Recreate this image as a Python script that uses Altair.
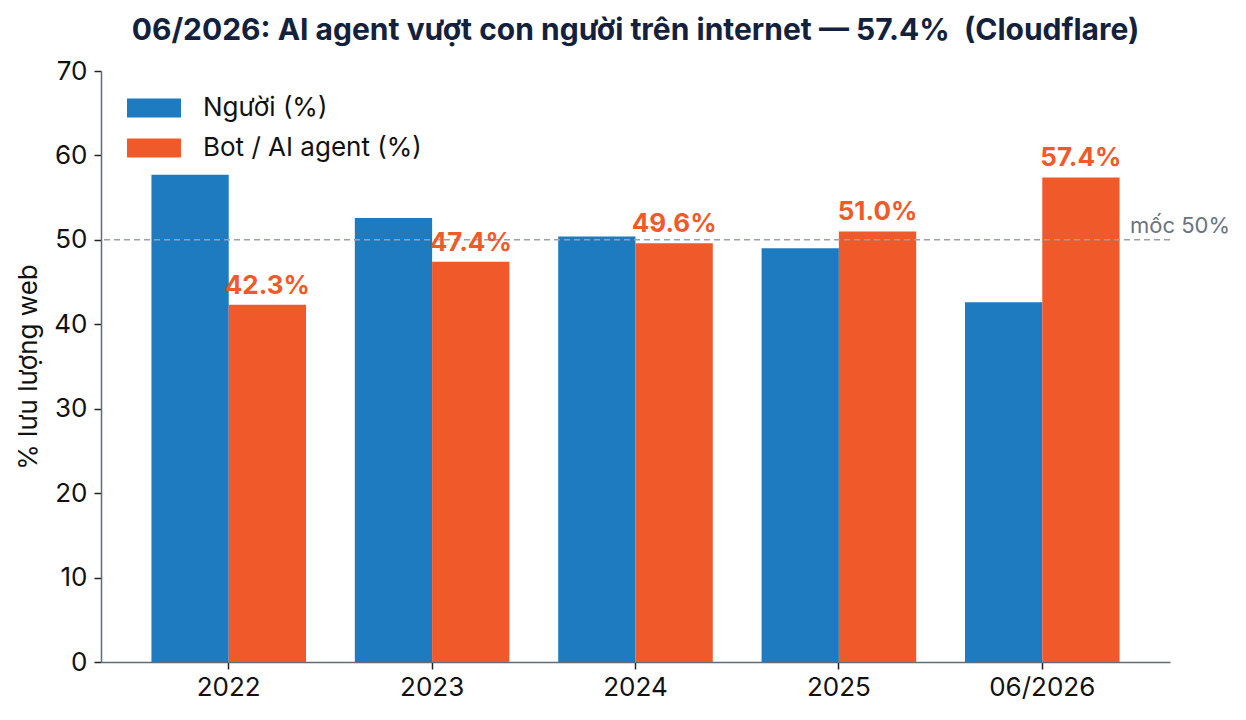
import altair as alt
import pandas as pd

# Share of web traffic by source, Cloudflare figures
periods = ["2022", "2023", "2024", "2025", "06/2026"]
human_share = [57.7, 52.6, 50.4, 49.0, 42.6]
bot_share = [42.3, 47.4, 49.6, 51.0, 57.4]
series_names = ["Người (%)", "Bot / AI agent (%)"]
series_colors = ["#1f7bc0", "#f05a2a"]
threshold = [50]

rows = []
for p, h, b in zip(periods, human_share, bot_share):
    rows.append({"period": p, "series": series_names[0], "value": h})
    rows.append({"period": p, "series": series_names[1], "value": b})
df = pd.DataFrame(rows)
df["label"] = df["value"].map(lambda v: f"{v:.1f}%")

ref_df = pd.DataFrame({"y": threshold, "note": ["mốc 50%"]})

W, H = 1069, 591
FONT = "Inter"
INK = "#111111"
AXIS_GREY = "#5f6b7a"

x_enc = alt.X(
    "period:N",
    sort=periods,
    title=None,
    scale=alt.Scale(paddingInner=0.24, paddingOuter=0.248),
    axis=alt.Axis(
        labelAngle=0,
        labelFontSize=26,
        labelFont=FONT,
        labelColor=INK,
        labelPadding=5,
        tickSize=7,
        tickColor="#222222",
        tickWidth=1.5,
        domainColor=AXIS_GREY,
        domainWidth=1.5,
        grid=False,
    ),
)
xoff_enc = alt.XOffset(
    "series:N",
    sort=series_names,
    scale=alt.Scale(domain=series_names, paddingInner=0, paddingOuter=0),
)
y_enc = alt.Y(
    "value:Q",
    scale=alt.Scale(domain=[0, 70], nice=False),
    axis=alt.Axis(
        values=list(range(0, 71, 10)),
        title="% lưu lượng web",
        titleFont=FONT,
        titleFontSize=26,
        titleFontWeight="normal",
        titleColor=INK,
        titlePadding=12,
        labelFontSize=26,
        labelFont=FONT,
        labelColor=INK,
        labelPadding=7,
        tickSize=7,
        tickColor="#222222",
        tickWidth=1.5,
        domainColor=AXIS_GREY,
        domainWidth=1.5,
        grid=False,
    ),
)

bars = alt.Chart(df).mark_bar().encode(
    x=x_enc,
    xOffset=xoff_enc,
    y=y_enc,
    color=alt.Color(
        "series:N",
        sort=series_names,
        scale=alt.Scale(domain=series_names, range=series_colors),
        legend=alt.Legend(
            title=None,
            orient="none",
            legendX=26,
            legendY=10,
            symbolType="M-1,-0.35L1,-0.35L1,0.35L-1,0.35Z",
            symbolSize=2916,
            symbolStrokeWidth=0,
            symbolOpacity=1,
            labelFont=FONT,
            labelFontSize=26,
            labelColor=INK,
            labelOffset=22,
            labelLimit=500,
            rowPadding=-13,
        ),
    ),
)

labels = (
    alt.Chart(df)
    .transform_filter(alt.datum.series == series_names[1])
    .mark_text(
        font=FONT,
        fontSize=26,
        fontWeight="bold",
        color=series_colors[1],
        baseline="bottom",
        dy=-6,
    )
    .encode(x=x_enc, xOffset=xoff_enc, y=y_enc, text="label:N")
)

ref_line = (
    alt.Chart(ref_df)
    .mark_rule(color="#9aa0a8", strokeDash=[6, 4], strokeWidth=1.5)
    .encode(y=alt.Y("y:Q"))
)

ref_text = (
    alt.Chart(ref_df)
    .mark_text(
        font=FONT,
        fontSize=22,
        color="#6b7280",
        align="left",
        baseline="bottom",
        dy=-2,
    )
    .encode(x=alt.value(W - 40), y=alt.Y("y:Q"), text="note:N")
)

chart = (
    alt.layer(bars, ref_line, ref_text, labels)
    .properties(
        width=W,
        height=H,
        autosize=alt.AutoSizeParams(type="none"),
        padding={"left": 101, "top": 71, "right": 76, "bottom": 58},
        view=alt.ViewBackground(stroke="transparent", strokeWidth=0),
        title=alt.Title(
            "06/2026: AI agent vượt con người trên internet — 57.4% \u00a0(Cloudflare)",
            font=FONT,
            fontSize=30,
            fontWeight="bold",
            color="#14213d",
            anchor="middle",
            offset=12,
        ),
    )
    .configure_view(stroke="transparent", strokeWidth=0)
    .configure(background="white")
)

chart.save("out.html", embed_options={"renderer": "svg", "actions": False})
